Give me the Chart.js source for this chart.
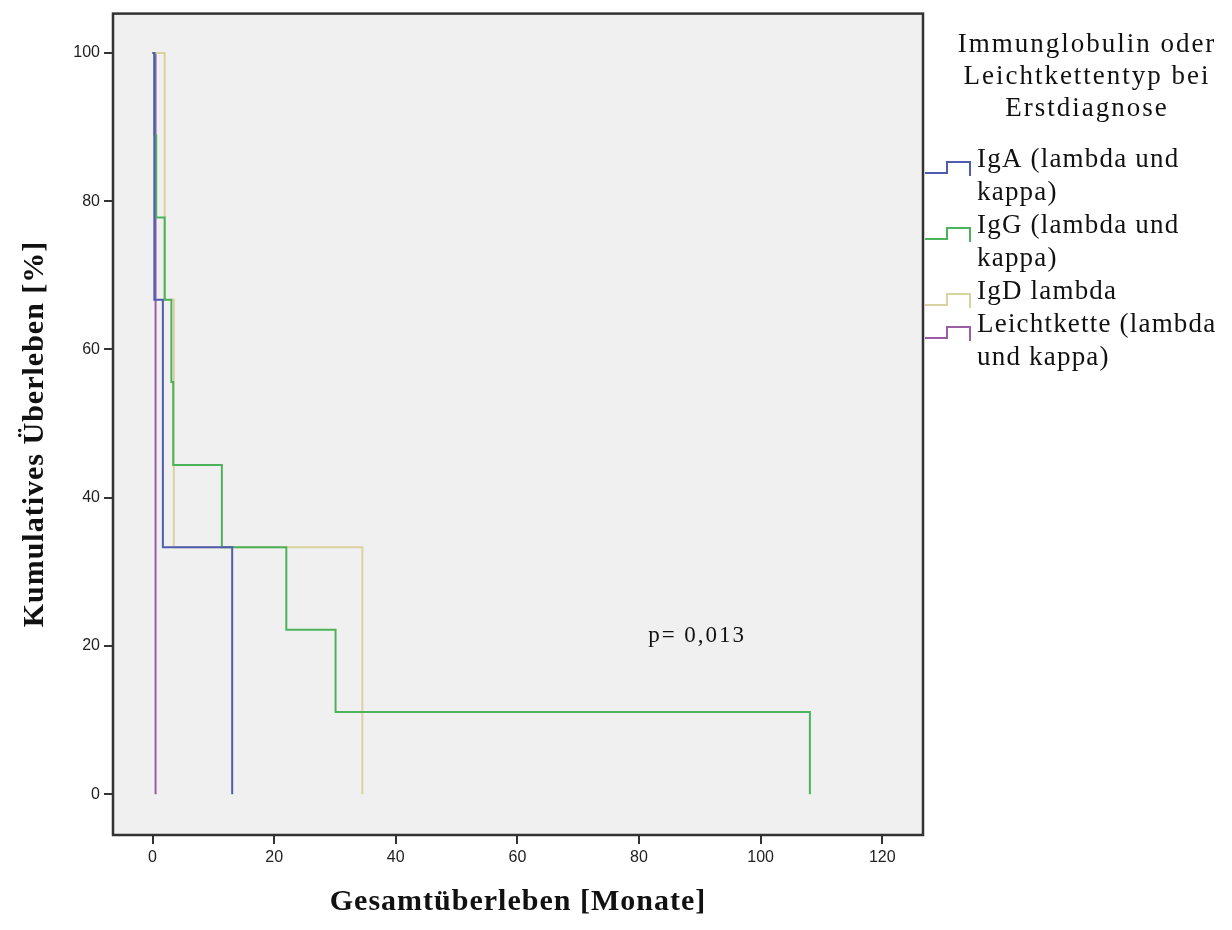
<!DOCTYPE html>
<html>
<head>
<meta charset="utf-8">
<script src="https://cdn.jsdelivr.net/npm/chart.js@4.4.1/dist/chart.umd.min.js"></script>
<style>
	body { margin: 0; background: #ffffff; }
	#kmChart { display: block; }
</style>
</head>
<body>
<canvas id="kmChart" width="1232" height="930"></canvas>
<script>
// Kaplan-Meier data: event times (months) and survival (%) after each event
const igaTimes = [0, 0.3, 1.7, 13.1];
const igaSurv = [100, 66.7, 33.3, 0];
const iggTimes = [0, 0.3, 0.6, 2.0, 3.1, 3.4, 11.4, 22.0, 30.1, 108.1];
const iggSurv = [100, 88.9, 77.8, 66.7, 55.6, 44.4, 33.3, 22.2, 11.1, 0];
const igdTimes = [0, 2.0, 3.5, 34.5];
const igdSurv = [100, 66.7, 33.3, 0];
const lkTimes = [0, 0.5];
const lkSurv = [100, 0];

const seriesLabels = [
	['IgA (lambda und', 'kappa)'],
	['IgG (lambda und', 'kappa)'],
	['IgD lambda'],
	['Leichtkette (lambda', 'und kappa)']
];
const seriesColors = ['#4f5cb0', '#4cb35a', '#d9d2a0', '#9a5ea6'];
const legendTitle = ['Immunglobulin oder', 'Leichtkettentyp bei', 'Erstdiagnose'];

const xTickValues = [0, 20, 40, 60, 80, 100, 120];
const yTickValues = [0, 20, 40, 60, 80, 100];
const xTitle = 'Gesamtüberleben [Monate]';
const yTitle = 'Kumulatives Überleben [%]';
const pText = 'p= 0,013';
const pPos = { x: 81.5, y: 21.3 };

// turn event lists into step points (horizontal, then drop)
function kmPoints(times, surv) {
	const pts = [{ x: times[0], y: surv[0] }];
	for (let i = 1; i < times.length; i++) {
		pts.push({ x: times[i], y: surv[i - 1] });
		pts.push({ x: times[i], y: surv[i] });
	}
	return pts;
}

const serif = '"Liberation Serif", "Times New Roman", serif';
const sans = '"Liberation Sans", Arial, sans-serif';

// plot background + frame, axis titles, legend, p-value
const framePlugin = {
	id: 'frame',
	beforeDraw(chart) {
		const a = chart.chartArea;
		const ctx = chart.ctx;
		ctx.save();
		ctx.fillStyle = '#f0f0f0';
		ctx.fillRect(a.left, a.top, a.right - a.left, a.bottom - a.top);
		ctx.restore();
	},
	afterDraw(chart) {
		const a = chart.chartArea;
		const ctx = chart.ctx;
		ctx.save();
		ctx.strokeStyle = '#333';
		ctx.lineWidth = 2.5;
		ctx.strokeRect(a.left, a.top, a.right - a.left, a.bottom - a.top);

		ctx.fillStyle = '#111';
		ctx.textBaseline = 'middle';

		// axis titles (spaced out like the original)
		ctx.font = 'bold 30px ' + serif;
		ctx.letterSpacing = '1px';
		ctx.textAlign = 'center';
		ctx.fillText(xTitle, (a.left + a.right) / 2, 902);
		ctx.save();
		ctx.translate(35, 434);
		ctx.rotate(-Math.PI / 2);
		ctx.fillText(yTitle, 0, 0);
		ctx.restore();

		// p value
		ctx.font = '23px ' + serif;
		ctx.letterSpacing = '2px';
		ctx.textAlign = 'left';
		ctx.fillText(pText, chart.scales.x.getPixelForValue(pPos.x), chart.scales.y.getPixelForValue(pPos.y));

		// legend title
		ctx.font = '27px ' + serif;
		ctx.letterSpacing = '2px';
		ctx.textAlign = 'center';
		legendTitle.forEach((t, i) => ctx.fillText(t, 1087, 45 + i * 32));

		// legend items
		let row = 0;
		ctx.letterSpacing = '1.2px';
		ctx.textAlign = 'left';
		seriesLabels.forEach((lines, i) => {
			const y = 160 + row * 33;
			ctx.strokeStyle = seriesColors[i];
			ctx.lineWidth = 2;
			ctx.beginPath();
			ctx.moveTo(925, y + 13);
			ctx.lineTo(947, y + 13);
			ctx.lineTo(947, y + 2);
			ctx.lineTo(970, y + 2);
			ctx.lineTo(970, y + 16);
			ctx.stroke();
			lines.forEach((t, j) => ctx.fillText(t, 977, y + j * 33));
			row += lines.length;
		});
		ctx.restore();
	}
};

const config = {
	type: 'line',
	data: {
		datasets: [
			{ label: seriesLabels[0].join(' '), data: kmPoints(igaTimes, igaSurv), borderColor: seriesColors[0] },
			{ label: seriesLabels[1].join(' '), data: kmPoints(iggTimes, iggSurv), borderColor: seriesColors[1] },
			{ label: seriesLabels[2].join(' '), data: kmPoints(igdTimes, igdSurv), borderColor: seriesColors[2] },
			{ label: seriesLabels[3].join(' '), data: kmPoints(lkTimes, lkSurv), borderColor: seriesColors[3] }
		]
	},
	options: {
		responsive: false,
		animation: false,
		events: [],
		layout: { padding: { top: 13, right: 309, left: 0, bottom: 0 } },
		elements: {
			line: { borderWidth: 2, tension: 0 },
			point: { radius: 0 }
		},
		plugins: {
			legend: { display: false },
			tooltip: { enabled: false }
		},
		scales: {
			x: {
				type: 'linear',
				min: -6.5,
				max: 126.7,
				afterBuildTicks: s => { s.ticks = xTickValues.map(v => ({ value: v })); },
				afterFit: s => { s.height = 95; },
				grid: { drawOnChartArea: false, drawTicks: true, tickLength: 9, color: '#333', lineWidth: 2 },
				border: { display: false },
				ticks: { color: '#222', font: { family: sans, size: 16 }, padding: 4, maxRotation: 0 }
			},
			y: {
				type: 'linear',
				min: -5.5,
				max: 105.3,
				afterBuildTicks: s => { s.ticks = yTickValues.map(v => ({ value: v })); },
				afterFit: s => { s.width = 113; },
				grid: { drawOnChartArea: false, drawTicks: true, tickLength: 9, color: '#333', lineWidth: 2 },
				border: { display: false },
				ticks: { color: '#222', font: { family: sans, size: 16 }, padding: 4 }
			}
		}
	},
	plugins: [framePlugin]
};

const kmChart = new Chart(document.getElementById('kmChart'), config);
</script>
</body>
</html>
